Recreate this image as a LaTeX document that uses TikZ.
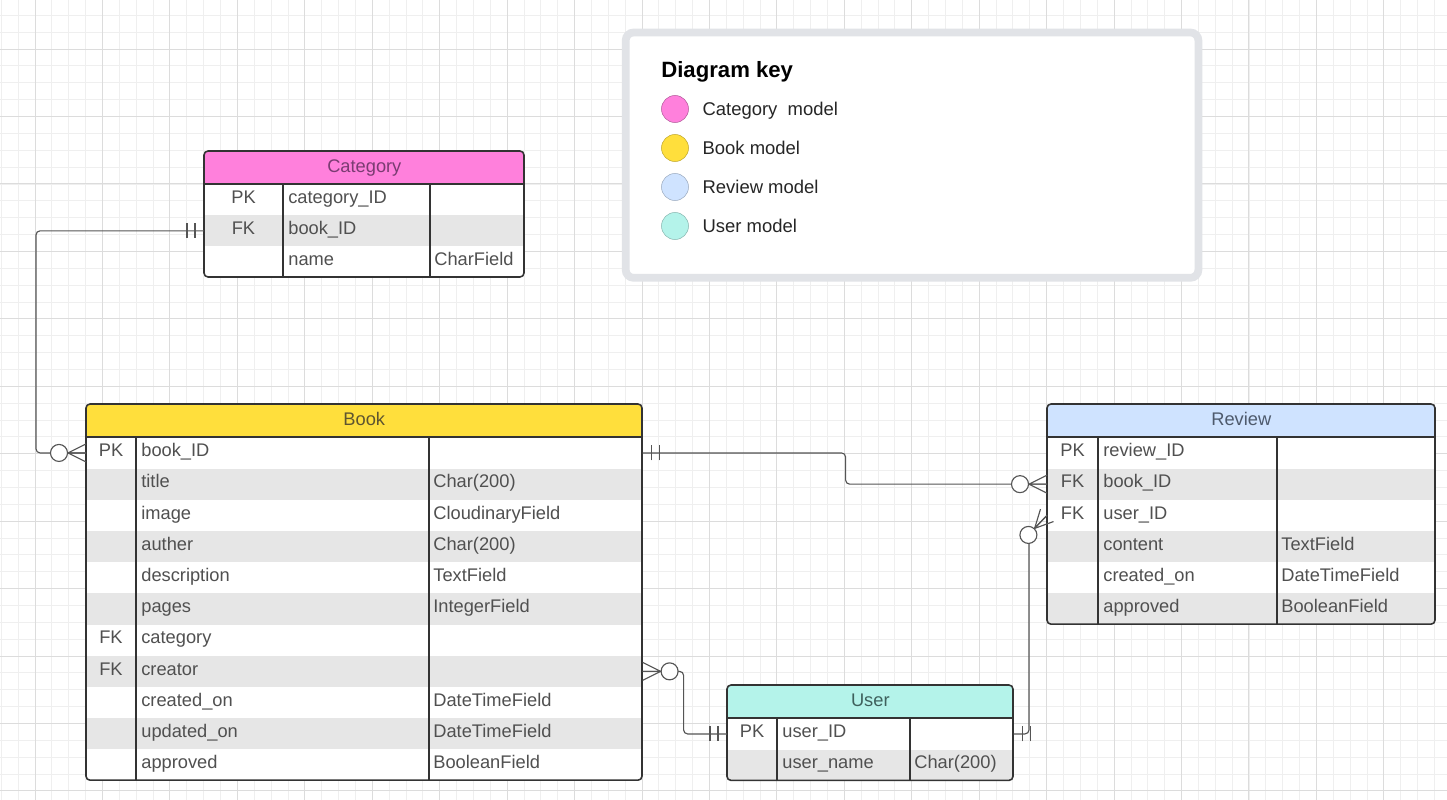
\documentclass[tikz,border=0pt]{standalone}
\usepackage{fontspec}
\setmainfont{Liberation Sans}
\usetikzlibrary{positioning}

\definecolor{gridminor}{HTML}{EFEFEF}
\definecolor{gridmajor}{HTML}{DCDCDC}
\definecolor{rowgrey}{HTML}{E6E6E6}
\definecolor{cellink}{HTML}{505050}
\definecolor{frameink}{HTML}{333333}
\definecolor{wireink}{HTML}{555555}
\definecolor{keyframe}{HTML}{E1E3E7}
\definecolor{catpink}{HTML}{FF80DC}
\definecolor{catink}{HTML}{7A3C72}
\definecolor{bookyellow}{HTML}{FFDF3C}
\definecolor{bookink}{HTML}{5E5530}
\definecolor{reviewblue}{HTML}{CFE3FF}
\definecolor{reviewink}{HTML}{4E5A6C}
\definecolor{usermint}{HTML}{B4F3EA}
\definecolor{userink}{HTML}{3E605C}

\tikzset{
  cellfont/.style={font=\fontsize{10.4}{12}\selectfont},
  tablerow/.style={anchor=north west, inner sep=0, minimum height=0.624cm},
  tablehead/.style={anchor=north west, inner sep=0, minimum height=0.66cm,
    cellfont, text height=1.2ex, text depth=0.3ex},
  keycell/.style={cellfont, text=cellink, inner sep=0, text height=1.2ex, text depth=0.3ex},
  fieldcell/.style={keycell, anchor=west},
  tableframe/.style={draw=frameink, line width=0.9pt, rounded corners=2.3pt},
  tablerule/.style={draw=frameink, line width=0.8pt},
  wire/.style={draw=wireink, line width=0.65pt, rounded corners=2.3pt},
  keydot/.style={circle, minimum size=0.54cm, inner sep=0, line width=0.3pt},
  keylabel/.style={inner sep=0, font=\fontsize{10.5}{12}\selectfont, text=black!85,
    text height=1.38ex, text depth=0pt},
  % end marks, drawn with the entity edge at the origin
  onlyone/.pic={\draw[wireink, line width=0.65pt] (-9,-7.5) -- (-9,7.5) (-17,-7.5) -- (-17,7.5);},
  zeromany/.pic={
    \draw[wireink, line width=0.65pt] (-18,0) -- (0,-9) (-18,0) -- (0,0) (-18,0) -- (0,9);
    \draw[wireink, line width=0.65pt, fill=white] (-27,0) circle (8.5);
  }
}

\begin{document}
\begin{tikzpicture}[x=0.02cm, y=-0.02cm]
  \useasboundingbox (0,0) rectangle (1447,800);
  \fill[white] (0,0) rectangle (1447,800);

  % background grid
  \foreach \i in {0,...,85} \draw[gridminor, line width=0.45pt] ({1.28+\i*16.86},0) -- ++(0,800);
  \foreach \j in {0,...,46} \draw[gridminor, line width=0.45pt] (0,{15.3+\j*16.86}) -- ++(1447,0);
  \foreach \i in {0,...,21} \draw[gridmajor, line width=0.5pt] ({35+\i*67.44},0) -- ++(0,800);
  \foreach \j in {0,...,11} \draw[gridmajor, line width=0.5pt] (0,{49+\j*67.44}) -- ++(1447,0);

  % diagram key
  \draw[keyframe, line width=4.4pt, fill=white, rounded corners=4.5pt] (625.7,32.5) rectangle (1198.4,277.8);
  \node[anchor=west, inner sep=0, font=\fontsize{12.6}{14}\selectfont\bfseries] (key-title) at (661,72) {Diagram key};
  \node[keydot, fill=catpink, draw=catpink!70!black] (key-cat) at (675,109) {};
  \node[keydot, fill=bookyellow, draw=bookyellow!75!black] (key-book) at (675,148) {};
  \node[keydot, fill=reviewblue, draw=reviewblue!75!black] (key-review) at (675,187) {};
  \node[keydot, fill=usermint, draw=usermint!75!black] (key-user) at (675,226) {};
  \node[keylabel, right=0.27cm of key-cat] {Category~ model};
  \node[keylabel, right=0.27cm of key-book] {Book model};
  \node[keylabel, right=0.27cm of key-review] {Review model};
  \node[keylabel, right=0.27cm of key-user] {User model};

  % Category table
  \begin{scope}
    \clip[rounded corners=2.3pt] (204,151) rectangle (524,277);
    \node[tablehead, fill=catpink, text=catink, minimum width=6.4cm] (cat) at (204,151) {Category};
    \foreach \k/\f/\t [count=\i] in {PK/category\_ID/{}, FK/book\_ID/{}, {}/name/CharField} {
      \ifodd\i \def\shade{white}\else\def\shade{rowgrey}\fi
      \node[tablerow, fill=\shade, minimum width=6.4cm, minimum height=0.62cm] (cat-\i) at (204,{184+(\i-1)*31}) {};
      \node[keycell] at (243.5,{184+(\i-0.5)*31}) {\k};
      \node[fieldcell] at (288,{184+(\i-0.5)*31}) {\f};
      \node[fieldcell] at (434,{184+(\i-0.5)*31}) {\t};
    }
  \end{scope}
  \draw[tablerule] (204,184) -- (524,184) (283,184) -- (283,277) (430,184) -- (430,277);
  \draw[tableframe] (204,151) rectangle (524,277);

  % Book table
  \begin{scope}
    \clip[rounded corners=2.3pt] (86,404) rectangle (642,780.2);
    \node[tablehead, fill=bookyellow, text=bookink, minimum width=11.12cm] (book) at (86,404) {Book};
    \foreach \k/\f/\t [count=\i] in {PK/book\_ID/{}, {}/title/Char(200), {}/image/CloudinaryField,
        {}/auther/Char(200), {}/description/TextField, {}/pages/IntegerField, FK/category/{},
        FK/creator/{}, {}/created\_on/DateTimeField, {}/updated\_on/DateTimeField, {}/approved/BooleanField} {
      \ifodd\i \def\shade{white}\else\def\shade{rowgrey}\fi
      \node[tablerow, fill=\shade, minimum width=11.12cm] (book-\i) at (86,{437+(\i-1)*31.2}) {};
      \node[keycell] at (111,{437+(\i-0.5)*31.2}) {\k};
      \node[fieldcell] at (141,{437+(\i-0.5)*31.2}) {\f};
      \node[fieldcell] at (433,{437+(\i-0.5)*31.2}) {\t};
    }
  \end{scope}
  \draw[tablerule] (86,437) -- (642,437) (136,437) -- (136,780.2) (429,437) -- (429,780.2);
  \draw[tableframe] (86,404) rectangle (642,780.2);

  % Review table
  \begin{scope}
    \clip[rounded corners=2.3pt] (1047,404) rectangle (1435,624.2);
    \node[tablehead, fill=reviewblue, text=reviewink, minimum width=7.76cm] (rev) at (1047,404) {Review};
    \foreach \k/\f/\t [count=\i] in {PK/review\_ID/{}, FK/book\_ID/{}, FK/user\_ID/{},
        {}/content/TextField, {}/created\_on/DateTimeField, {}/approved/BooleanField} {
      \ifodd\i \def\shade{white}\else\def\shade{rowgrey}\fi
      \node[tablerow, fill=\shade, minimum width=7.76cm] (rev-\i) at (1047,{437+(\i-1)*31.2}) {};
      \node[keycell] at (1072.5,{437+(\i-0.5)*31.2}) {\k};
      \node[fieldcell] at (1103,{437+(\i-0.5)*31.2}) {\f};
      \node[fieldcell] at (1281,{437+(\i-0.5)*31.2}) {\t};
    }
  \end{scope}
  \draw[tablerule] (1047,437) -- (1435,437) (1098,437) -- (1098,624.2) (1277,437) -- (1277,624.2);
  \draw[tableframe] (1047,404) rectangle (1435,624.2);

  % User table
  \begin{scope}
    \clip[rounded corners=2.3pt] (727,685) rectangle (1013,780.4);
    \node[tablehead, fill=usermint, text=userink, minimum width=5.72cm] (user) at (727,685) {User};
    \foreach \k/\f/\t [count=\i] in {PK/user\_ID/{}, {}/user\_name/Char(200)} {
      \ifodd\i \def\shade{white}\else\def\shade{rowgrey}\fi
      \node[tablerow, fill=\shade, minimum width=5.72cm] (user-\i) at (727,{718+(\i-1)*31.2}) {};
      \node[keycell] at (752,{718+(\i-0.5)*31.2}) {\k};
      \node[fieldcell] at (782,{718+(\i-0.5)*31.2}) {\f};
      \node[fieldcell] at (914,{718+(\i-0.5)*31.2}) {\t};
    }
  \end{scope}
  \draw[tablerule] (727,718) -- (1013,718) (777,718) -- (777,780.4) (910,718) -- (910,780.4);
  \draw[tableframe] (727,685) rectangle (1013,780.4);

  % relations
  \draw[wire] (cat-2.west) -- ++(-168,0) |- (book-1.west);
  \pic at (cat-2.west) {onlyone};
  \pic at (book-1.west) {zeromany};

  \draw[wire] (book-1.east) -- ++(203,0) |- (rev-2.west);
  \pic[rotate=180] at (book-1.east) {onlyone};
  \pic at (rev-2.west) {zeromany};

  \draw[wire] (book-8.east) -- ++(41,0) |- (user-1.west);
  \pic[rotate=180] at (book-8.east) {zeromany};
  \pic at (user-1.west) {onlyone};

  \coordinate (revuser-bend) at (1029,534);
  \draw[wire] (user-1.east) -| (revuser-bend) -- (rev-3.west);
  \pic[rotate=180] at (user-1.east) {onlyone};
  \pic[rotate=46.5] at (rev-3.west) {zeromany};
\end{tikzpicture}
\end{document}
